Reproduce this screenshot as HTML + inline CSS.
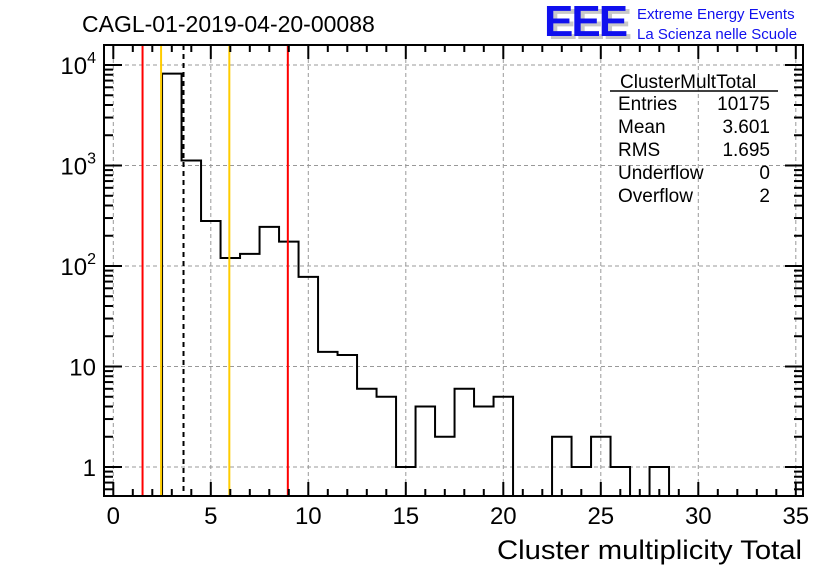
<!DOCTYPE html>
<html><head><meta charset="utf-8"><style>
body{margin:0;background:#fff;}
svg text{font-family:"Liberation Sans",sans-serif;}
</style></head><body>
<svg id="c" width="836" height="572" xmlns="http://www.w3.org/2000/svg">
<rect width="836" height="572" fill="#fff"/>
<text x="82" y="32" font-size="23">CAGL-01-2019-04-20-00088</text>
<g>
<text x="548" y="39" font-size="44" font-weight="bold" fill="#c8c8c8" letter-spacing="-2">EEE</text>
<text x="544" y="36" font-size="44" font-weight="bold" fill="#1010ee" letter-spacing="-2">EEE</text>
<text x="637" y="19" font-size="15" fill="#1010ee">Extreme Energy Events</text>
<text x="637" y="39" font-size="15" fill="#1010ee">La Scienza nelle Scuole</text>
</g>
<g id="grid"></g>
<g id="marks"></g>
<g id="axes"></g>
<g font-size="19">
<text x="620" y="88">ClusterMultTotal</text>
<line x1="610" y1="91" x2="778" y2="91" stroke="#000" stroke-width="1.5"/>
<text x="618" y="110">Entries</text><text x="770" y="110" text-anchor="end">10175</text>
<text x="618" y="133">Mean</text><text x="770" y="133" text-anchor="end">3.601</text>
<text x="618" y="156">RMS</text><text x="770" y="156" text-anchor="end">1.695</text>
<text x="618" y="179">Underflow</text><text x="770" y="179" text-anchor="end">0</text>
<text x="618" y="202">Overflow</text><text x="770" y="202" text-anchor="end">2</text>
</g>
<text x="497" y="559" font-size="27" textLength="305" lengthAdjust="spacingAndGlyphs">Cluster multiplicity Total</text>
</svg>
<script>
const binLow = [2.5,3.5,4.5,5.5,6.5,7.5,8.5,9.5,10.5,11.5,12.5,13.5,14.5,15.5,16.5,17.5,18.5,19.5,20.5,21.5,22.5,23.5,24.5,25.5,26.5,27.5];
const counts = [8200,1120,280,120,132,245,175,78,14,13,6,5,1,4,2,6,4,5,0,0,2,1,2,1,0,1];
const xTicks = [0,5,10,15,20,25,30,35];
const yTicks = [1,10,100,1000,10000];
const yTickLabels = ["1","10","10²","10³","10⁴"];
const redLines = [1.5,8.95];
const orangeLines = [2.45,5.95];
const meanValue = 3.601;

const L=104,R=803,T=45,B=496;
const sx=v=>113.3+19.5*v;
const sy=v=>467-100.5*Math.log10(v);
const NS="http://www.w3.org/2000/svg";
function mk(tag,attrs,parent){const e=document.createElementNS(NS,tag);for(const k in attrs)e.setAttribute(k,attrs[k]);document.getElementById(parent).appendChild(e);return e;}

xTicks.forEach(t=>{const x=sx(t);if(x>L+2&&x<R-2){const g=mk('line',{x1:x,x2:x,y1:T,y2:B,stroke:'#999','stroke-dasharray':'4,3','stroke-width':1},'grid');

}});
yTicks.forEach(t=>{const y=sy(t);const g=mk('line',{x1:L,x2:R,y1:y,y2:y,stroke:'#999','stroke-dasharray':'4,3','stroke-width':1},'grid');

});

let d='';let first=true;
binLow.forEach((lo,i)=>{const c=counts[i];const y=c>0?sy(c):B;const x0=sx(lo),x1=sx(lo+1);
 if(first){d+=`M${x0},${B}L${x0},${y}`;first=false;}else{d+=`L${x0},${y}`;}
 d+=`L${x1},${y}`;});
d+=`L${sx(binLow[binLow.length-1]+1)},${B}`;
const h=mk('path',{d:d,fill:'none',stroke:'#000','stroke-width':2},'marks');



redLines.forEach(v=>{const l=mk('line',{x1:sx(v),x2:sx(v),y1:T,y2:B,stroke:'#f00','stroke-width':2},'marks');

});
orangeLines.forEach(v=>{const l=mk('line',{x1:sx(v),x2:sx(v),y1:T,y2:B,stroke:'#ffcc00','stroke-width':2},'marks');

});
const ml=mk('line',{x1:sx(meanValue),x2:sx(meanValue),y1:T,y2:B,stroke:'#000','stroke-width':2,'stroke-dasharray':'5,4'},'marks');



const fr=mk('rect',{x:L,y:T,width:R-L,height:B-T,fill:'none',stroke:'#000','stroke-width':2},'axes');


for(let v=0;v<=35;v++){const x=sx(v);if(x>R)break;const len=v%5===0?14:7;
 mk('line',{x1:x,x2:x,y1:B,y2:B-len,stroke:'#000','stroke-width':2},'axes');
 mk('line',{x1:x,x2:x,y1:T,y2:T+len,stroke:'#000','stroke-width':2},'axes');}
xTicks.forEach(t=>{const tx=mk('text',{x:sx(t),y:524,'font-size':24,'text-anchor':'middle'},'axes');tx.textContent=t;

});
for(let e=-1;e<=4;e++){for(let m=1;m<=9;m++){const v=m*Math.pow(10,e);const y=sy(v);if(y>B||y<T)continue;const len=m===1?18:9;
 mk('line',{x1:L,x2:L+len,y1:y,y2:y,stroke:'#000','stroke-width':2},'axes');
 mk('line',{x1:R,x2:R-len,y1:y,y2:y,stroke:'#000','stroke-width':2},'axes');}}
yTicks.forEach((t,i)=>{const y=sy(t);const lab=yTickLabels[i];
 const tx=mk('text',{x:96,y:y+9,'font-size':24,'text-anchor':'end'},'axes');
 
 
 if(lab.length>2){tx.textContent='';const b=document.createElementNS(NS,'tspan');b.textContent='10';tx.appendChild(b);
  const s=document.createElementNS(NS,'tspan');s.setAttribute('dy','-11');s.setAttribute('font-size','16');s.textContent=String(Math.round(Math.log10(t)));tx.appendChild(s);}
 else tx.textContent=lab;});
</script>
</body></html>
